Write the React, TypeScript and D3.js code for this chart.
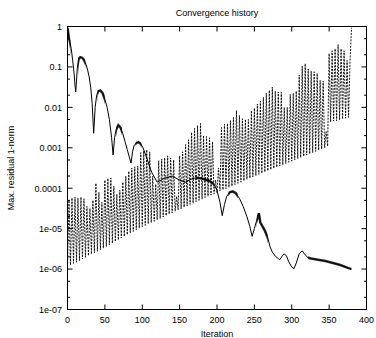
import React from "react";
import * as d3 from "d3";

// ---- data: [iteration, log10(residual)] ----
const dashedLog10: [number, number][] = [
  [0,-5.94],[2,-4.3],[4,-5.9],[6,-4.24],[8,-5.86],[10,-4.22],[12,-5.83],[14,-4.24],[16,-5.79],[18,-4.22],
  [20,-5.75],[22,-4.26],[24,-5.71],[26,-4.45],[28,-5.67],[30,-4.5],[32,-5.63],[34,-4.3],[36,-5.6],[38,-3.88],
  [40,-5.56],[42,-4.1],[44,-5.52],[46,-4.35],[48,-5.48],[50,-3.8],[52,-5.44],[54,-3.76],[56,-5.4],[58,-3.75],
  [60,-5.36],[62,-3.95],[64,-5.32],[66,-4.15],[68,-5.28],[70,-4.05],[72,-5.23],[74,-3.85],[76,-5.19],[78,-3.7],
  [80,-5.15],[82,-3.58],[84,-5.11],[86,-3.5],[88,-5.07],[90,-3.47],[92,-5.03],[94,-3.45],[96,-4.99],[98,-3.12],
  [100,-4.95],[102,-3.08],[104,-4.92],[106,-3.05],[108,-4.88],[110,-3.1],[112,-4.85],[114,-3.7],[116,-4.82],[118,-3.9],
  [120,-4.78],[122,-3.32],[124,-4.75],[126,-3.28],[128,-4.71],[130,-3.25],[132,-4.68],[134,-3.2],[136,-4.64],[138,-3.25],
  [140,-4.61],[142,-3.3],[144,-4.57],[146,-4.2],[148,-4.54],[150,-3.2],[152,-4.51],[154,-3.1],[156,-4.47],[158,-2.92],
  [160,-4.44],[162,-2.8],[164,-4.4],[166,-2.62],[168,-4.37],[170,-2.52],[172,-4.33],[174,-2.45],[176,-4.3],[178,-2.4],
  [180,-4.27],[182,-2.7],[184,-4.23],[186,-2.72],[188,-4.2],[190,-2.75],[192,-4.17],[194,-2.85],[196,-4.14],[198,-3.8],
  [200,-4.11],[202,-3.5],[204,-4.07],[206,-2.5],[208,-4.04],[210,-2.42],[212,-4.01],[214,-2.4],[216,-3.98],[218,-2.33],
  [220,-3.95],[222,-2.25],[224,-3.91],[226,-2.08],[228,-3.88],[230,-2.2],[232,-3.85],[234,-2.28],[236,-3.82],[238,-2.3],
  [240,-3.78],[242,-2.3],[244,-3.75],[246,-2.08],[248,-3.72],[250,-2.02],[252,-3.69],[254,-1.92],[256,-3.66],[258,-1.85],
  [260,-3.63],[262,-1.75],[264,-3.6],[266,-1.65],[268,-3.57],[270,-1.58],[272,-3.54],[274,-1.5],[276,-3.51],[278,-1.6],
  [280,-3.48],[282,-1.62],[284,-3.45],[286,-1.63],[288,-3.42],[290,-2.0],[292,-3.39],[294,-2.0],[296,-3.36],[298,-1.68],
  [300,-3.33],[302,-1.65],[304,-3.3],[306,-1.6],[308,-3.27],[310,-1.2],[312,-3.24],[314,-0.98],[316,-3.21],[318,-0.92],
  [320,-3.18],[322,-1.05],[324,-3.15],[326,-1.1],[328,-3.12],[330,-1.12],[332,-3.09],[334,-1.16],[336,-3.06],[338,-1.33],
  [340,-3.03],[342,-1.35],[344,-3.0],[346,-2.6],[348,-2.96],[350,-0.67],[352,-2.36],[354,-0.6],[356,-2.34],[358,-0.55],
  [360,-2.33],[362,-0.45],[364,-2.31],[366,-0.55],[368,-2.29],[370,-0.6],[372,-2.27],[374,-0.84],[376,-2.25],[378,-0.84],
  [380,-0.03],
];

const solidLog10: [number, number][] = [
  [0,-0.03],[1,-0.15],[2,-0.3],[3,-0.35],[5,-0.55],[7,-0.85],[9,-1.2],[10,-1.45],[11,-1.62],[12,-1.35],
  [13,-1.05],[14,-0.9],[15,-0.8],[17,-0.76],[19,-0.77],[21,-0.8],[23,-0.86],[25,-0.95],[27,-1.08],[29,-1.25],
  [31,-1.5],[33,-1.9],[35,-2.64],[37,-2.0],[39,-1.7],[41,-1.6],[44,-1.58],[47,-1.65],[50,-1.8],[53,-2.0],
  [56,-2.3],[59,-2.75],[61,-3.18],[63,-2.75],[65,-2.55],[68,-2.44],[71,-2.5],[74,-2.65],[77,-2.85],[80,-3.05],
  [83,-3.25],[85,-3.38],[87,-3.1],[89,-2.95],[92,-2.88],[95,-2.86],[98,-2.9],[101,-3.0],[104,-3.15],[107,-3.3],
  [110,-3.48],[113,-3.62],[116,-3.72],[120,-3.85],[130,-3.75],[140,-3.7],[150,-3.8],[158,-3.85],[165,-3.78],[172,-3.74],
  [180,-3.76],[190,-3.82],[196,-3.9],[200,-4.05],[204,-4.35],[207,-4.68],[210,-4.4],[213,-4.2],[217,-4.1],[221,-4.08],
  [225,-4.12],[230,-4.25],[235,-4.45],[240,-4.7],[244,-4.95],[247,-5.19],[250,-5.0],[253,-4.8],[256,-4.62],[258,-4.85],
  [261,-4.95],[264,-5.05],[268,-5.23],[271,-5.45],[274,-5.58],[278,-5.68],[282,-5.74],[284,-5.77],[287,-5.68],[290,-5.62],
  [293,-5.68],[296,-5.82],[300,-5.95],[303,-5.99],[306,-5.85],[310,-5.62],[314,-5.55],[318,-5.65],[322,-5.72],[326,-5.74],
  [335,-5.77],[345,-5.8],[355,-5.85],[365,-5.9],[375,-5.97],[380,-6.0],
];

// iteration ranges where the solid curve oscillates rapidly (drawn as a thick band)
const fuzzyRanges: [number, number][] = [
  [0,4],[14,24],[40,50],[65,73],[91,99],[172,196],[215,228],[253,268],[322,380],
];

const xTicks = [0, 50, 100, 150, 200, 250, 300, 350, 400];
const yTicks = [1, 0.1, 0.01, 0.001, 0.0001, 1e-5, 1e-6, 1e-7];
const yTickLabels = ["1", "0.1", "0.01", "0.001", "0.0001", "1e-05", "1e-06", "1e-07"];
const minorMultipliers = [2, 5];

const W = 376, H = 338;
const FONT = "'Liberation Sans', Arial, Helvetica, sans-serif";

export default function App() {
  const x = d3.scaleLinear().domain([0, 400]).range([67.5, 366.5]);
  const y = d3.scaleLog().domain([1e-7, 1]).range([309.5, 26.5]);

  const line = d3
    .line<[number, number]>()
    .x((d) => x(d[0]))
    .y((d) => y(Math.pow(10, d[1])));

  const minorTicks: number[] = [];
  yTicks.slice(1).forEach((t) => minorMultipliers.forEach((m) => minorTicks.push(t * m)));

  const left = x(0), right = x(400), top = y(1), bottom = y(1e-7);
  const tk = 5, mtk = 2.5;

  return (
    <svg width={W} height={H} style={{ position: "absolute", left: 0, top: 0, background: "#fff" }}
      fontFamily={FONT}>
      <defs>
        <clipPath id="plot">
          <rect x={left} y={top} width={right - left} height={bottom - top} />
        </clipPath>
        <clipPath id="fuzz">
          {fuzzyRanges.map(([a, b], i) => (
            <rect key={i} x={x(a)} y={top} width={x(b) - x(a)} height={bottom - top} />
          ))}
        </clipPath>
      </defs>
      <rect x={0} y={0} width={W} height={H} fill="#fff" />
      <text x={(left + right) / 2} y={16} textAnchor="middle" fontSize={9}>Convergence history</text>

      <g clipPath="url(#plot)">
        <path d={line(dashedLog10) || ""} fill="none" stroke="#000" strokeWidth={0.9} strokeDasharray="2,1.2" />
        <path d={line(solidLog10) || ""} fill="none" stroke="#000" strokeWidth={1} />
        <g clipPath="url(#fuzz)">
          <path d={line(solidLog10) || ""} fill="none" stroke="#000" strokeWidth={2.5} strokeOpacity={0.8} />
        </g>
      </g>

      {/* ticks */}
      <g stroke="#000" strokeWidth={1}>
        {xTicks.map((t) => (
          <g key={"x" + t}>
            <line x1={x(t)} x2={x(t)} y1={bottom} y2={bottom - tk} />
            <line x1={x(t)} x2={x(t)} y1={top} y2={top + tk} />
          </g>
        ))}
        {yTicks.map((t) => (
          <g key={"y" + t}>
            <line x1={left} x2={left + tk} y1={y(t)} y2={y(t)} />
            <line x1={right} x2={right - tk} y1={y(t)} y2={y(t)} />
          </g>
        ))}
        {minorTicks.map((t, i) => (
          <g key={"m" + i}>
            <line x1={left} x2={left + mtk} y1={y(t)} y2={y(t)} />
            <line x1={right} x2={right - mtk} y1={y(t)} y2={y(t)} />
          </g>
        ))}
      </g>
      <rect x={left} y={top} width={right - left} height={bottom - top} fill="none" stroke="#000" strokeWidth={1} />

      {xTicks.map((t) => (
        <text key={"xl" + t} x={x(t)} y={323} textAnchor="middle" fontSize={9}>{t}</text>
      ))}
      {yTicks.map((t, i) => (
        <text key={"yl" + t} x={62} y={y(t) + 3.3} textAnchor="end" fontSize={9}>{yTickLabels[i]}</text>
      ))}
      <text x={(left + right) / 2} y={337} textAnchor="middle" fontSize={9}>Iteration</text>
      <text transform={`translate(13.5, ${(top + bottom) / 2}) rotate(-90)`} textAnchor="middle" fontSize={9}>
        Max. residual 1-norm
      </text>
    </svg>
  );
}
